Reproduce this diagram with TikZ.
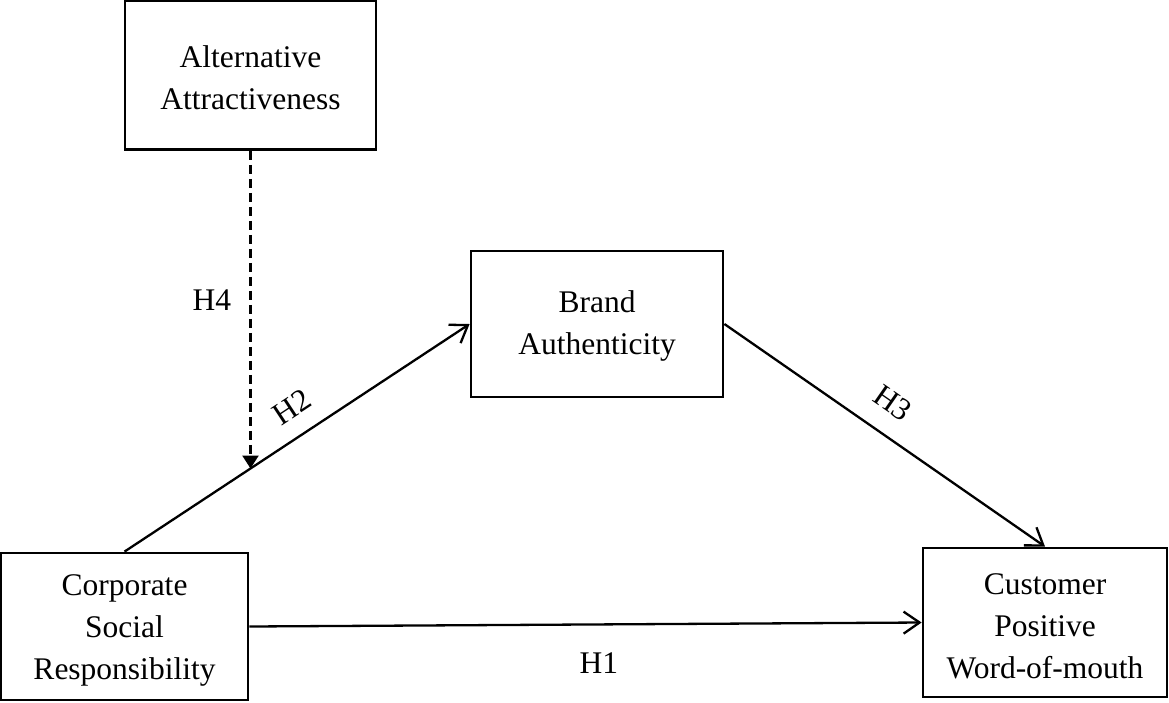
\documentclass[tikz,border=0pt]{standalone}
\usepackage{fontspec}
\setmainfont{Liberation Serif}
\usetikzlibrary{arrows.meta}
\begin{document}
\begin{tikzpicture}[x=1pt,y=-1pt,
  box/.style={draw, line width=2.8pt, inner sep=0pt},
  txt/.style={align=center, font=\fontsize{31.5}{42}\selectfont, inner sep=0pt},
  conn/.style={line width=2.3pt, -{Straight Barb[length=16pt,width=22pt]}},
  dconn/.style={line width=2.3pt, dash pattern=on 9pt off 5pt, -{Triangle[length=13pt,width=16pt]}},
  lab/.style={font=\fontsize{31.5}{36}\selectfont}]
\useasboundingbox (0,0) rectangle (1169,702);
\node[box, minimum width=251pt, minimum height=149pt] (AA) at (250.5,75) {};
\node[box, minimum width=252pt, minimum height=146pt] (BA) at (597,324) {};
\node[box, minimum width=247pt, minimum height=147pt] (CSR) at (124.5,626.5) {};
\node[box, minimum width=244pt, minimum height=149pt] (CPW) at (1045,622.5) {};
\node[txt] (AAt) at ([yshift=-3pt]AA.center) {Alternative\\Attractiveness};
\node[txt] (BAt) at ([yshift=-2pt]BA.center) {Brand\\Authenticity};
\node[txt] (CSRt) at ([yshift=-4pt]CSR.center) {Corporate\\Social\\Responsibility};
\node[txt] (CPWt) at ([yshift=-4pt]CPW.center) {Customer\\Positive\\Word-of-mouth};
\draw[conn] (CSR.north) -- node[lab, sloped, above=14pt, pos=0.53] (h2) {H2} (BA.west);
\draw[conn] (BA.east) -- node[lab, sloped, above=16pt, pos=0.47] (h3) {H3} (CPW.north);
\draw[conn] (CSR.east) -- node[lab, below=24pt, pos=0.52] (h1) {H1} (CPW.west);
\path (CSR.north) -- (BA.west) coordinate[pos=0.365] (m);
\draw[dconn] (AA.south) -- node[lab, pos=0.47, left=15pt] (h4) {H4} (AA.south |- m);
\end{tikzpicture}
\end{document}
